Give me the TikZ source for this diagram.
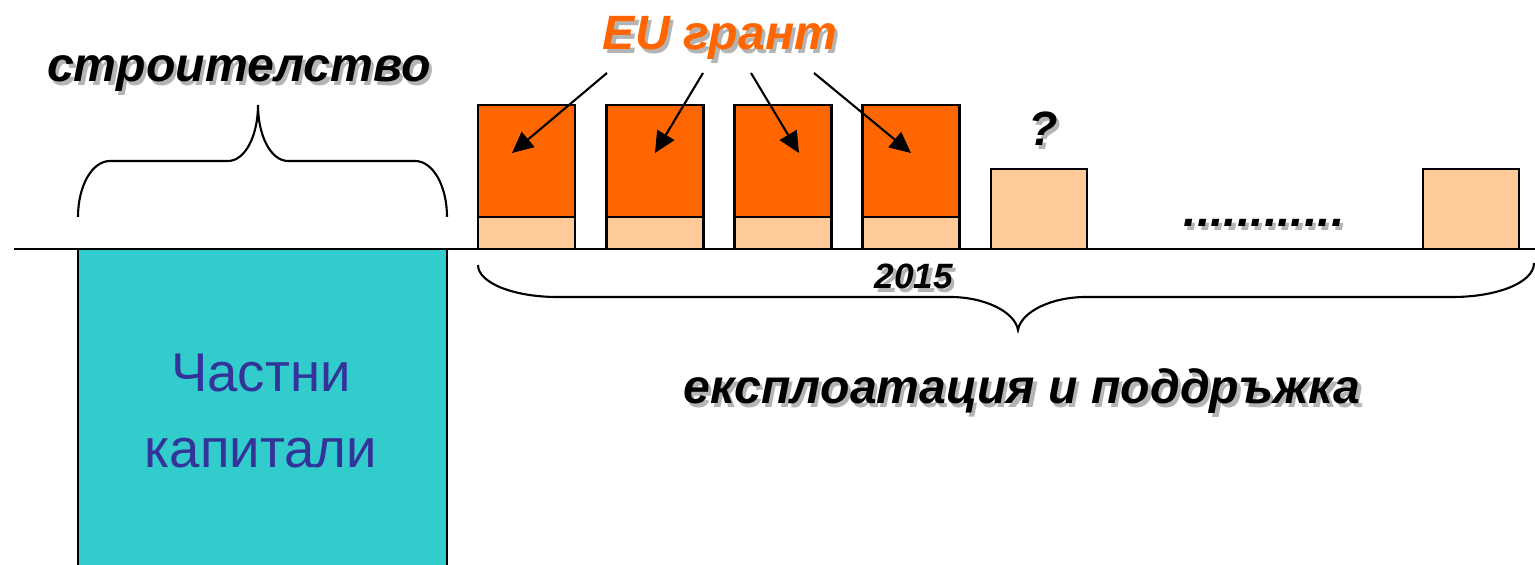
\documentclass[tikz,border=0pt]{standalone}
\usepackage{fontspec}
\setmainfont{Liberation Sans}
\usepackage{tikz}
\usetikzlibrary{arrows.meta,positioning}
\definecolor{grant}{HTML}{FF6600}
\definecolor{share}{HTML}{FFCC99}
\definecolor{teal}{HTML}{33CCCC}
\definecolor{ink}{HTML}{333399}
\definecolor{shade}{HTML}{B4B4B4}
% text with a light drop shadow
\newcommand{\shd}[1]{\makebox[0pt][l]{\raisebox{-0.9pt}{\kern0.9pt\textcolor{shade}{#1}}}#1}
\tikzset{
    title/.style={
    anchor=base,inner sep=0pt,font=\bfseries\itshape\fontsize{13.7}{16}\selectfont
    },
    small/.style={
    anchor=base,inner sep=0pt,font=\bfseries\itshape\fontsize{10}{12}\selectfont
    },
    upper/.style={
    rectangle,draw=black,fill=grant,line width=0.6pt,inner sep=0pt,outer sep=0pt,minimum width=0.97cm,minimum height=1.12cm
    },
    lower/.style={
    rectangle,draw=black,fill=share,line width=0.6pt,inner sep=0pt,outer sep=0pt,minimum width=0.97cm,minimum height=0.32cm
    },
    single/.style={
    rectangle,draw=black,fill=share,line width=0.6pt,inner sep=0pt,outer sep=0pt,minimum width=0.96cm,minimum height=0.80cm
    },
    arr/.style={
    -{Triangle[length=6pt,width=5.6pt]},line width=0.6pt
    },
    brace/.style={
    line width=0.6pt
    },
}

\begin{document}
\begin{tikzpicture}[x=0.01cm, y=-0.01cm]
   \useasboundingbox (0,0) rectangle (1535,565);

   % time axis
   \draw[line width=0.5pt] (14,249) -- (1535,249);

   % private capital
   \draw[fill=teal,line width=0.6pt] (78,249) rectangle (447,590);
   \node[text=ink,align=center,inner sep=0pt,font=\fontsize{15.5}{21.6}\selectfont] (priv) at (261,411) {Частни\\капитали};

   % yearly payments
   \node[upper] (g1) at (526.5,161) {};
   \node[lower,below=0 of g1] (s1) {};
   \node[upper] (g2) at (655,161) {};
   \node[lower,below=0 of g2] (s2) {};
   \node[upper] (g3) at (783,161) {};
   \node[lower,below=0 of g3] (s3) {};
   \node[upper] (g4) at (911,161) {};
   \node[lower,below=0 of g4] (s4) {};
   \node[single] (q) at (1039,209) {};
   \node[single] (last) at (1471,209) {};

   % labels
   \node[title] (build) at (239,82) {\shd{строителство}};
   \node[title,text=grant] (eu) at (720,50) {\shd{EU грант}};
   \node[title] (ask) at (1043,146) {\shd{?}};
   \node[title] (more) at (1264,227) {\shd{............}};
   \node[small] (year) at (914,289) {\shd{2015}};
   \node[title] (run) at (1022,404) {\shd{експлоатация и поддръжка}};

   % grant arrows
   \coordinate (a1) at (607,73);
   \coordinate (a2) at (703,73);
   \coordinate (a3) at (751,73);
   \coordinate (a4) at (814,73);
   \coordinate (t1) at (512,153);
   \coordinate (t2) at (655,153);
   \coordinate (t3) at (799,153);
   \coordinate (t4) at (911,153);
   \draw[arr] (a1) -- (t1);
   \draw[arr] (a2) -- (t2);
   \draw[arr] (a3) -- (t3);
   \draw[arr] (a4) -- (t4);

   % braces
   \draw[brace] (78,217) .. controls (78,186) and (92,161) .. (110,161) -- (228,161)
     .. controls (245,161) and (258,136) .. (258,105)
     .. controls (258,136) and (271,161) .. (288,161) -- (415,161)
     .. controls (433,161) and (447,186) .. (447,217);
   \draw[brace] (478,265) .. controls (478,283) and (514,297) .. (557,297) -- (950,297)
     .. controls (985,297) and (1015,312) .. (1018,330)
     .. controls (1021,312) and (1051,297) .. (1086,297) -- (1453,297)
     .. controls (1496,297) and (1534,283) .. (1534,263);
\end{tikzpicture}
\end{document}
